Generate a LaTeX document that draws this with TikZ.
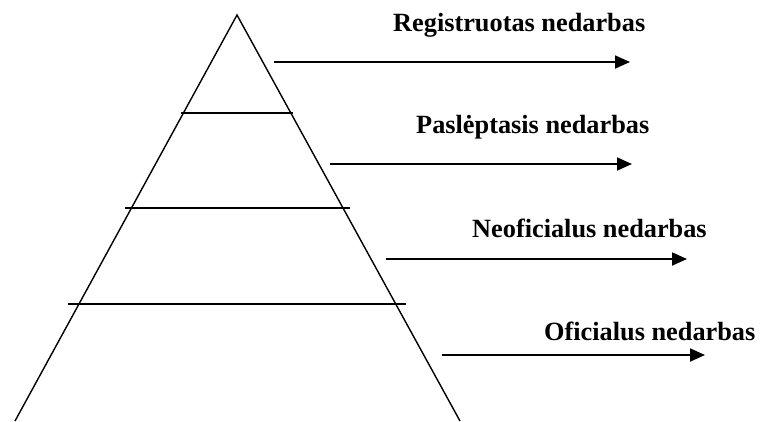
\documentclass[tikz,border=0pt]{standalone}
\usepackage{fontspec}
\setmainfont{Liberation Serif}
\usetikzlibrary{arrows.meta}
\begin{document}
\begin{tikzpicture}[x=1pt,y=-1pt,
  edge/.style={line width=1.4pt,line cap=butt},
  level/.style={line width=1.5pt},
  pointer/.style={line width=1.8pt,-{Triangle[length=15pt,width=13pt]}},
  caption/.style={anchor=base west,inner sep=0pt,font=\fontsize{26.3}{30}\selectfont\bfseries}]
\useasboundingbox (0,0) rectangle (760,421);
% pyramid outline
\coordinate (apex) at (237,15);
\coordinate (bl) at (15,421);
\coordinate (br) at (460,421);
\draw[edge] (bl) -- (apex) -- (br);
% level dividers
\coordinate (l1a) at (181,113); \coordinate (l1b) at (293,113);
\coordinate (l2a) at (125,208); \coordinate (l2b) at (350,208);
\coordinate (l3a) at (68,304);  \coordinate (l3b) at (406,304);
\draw[level] (l1a) -- (l1b);
\draw[level] (l2a) -- (l2b);
\draw[level] (l3a) -- (l3b);
% labels
\node[caption] (t1) at (393,31) {Registruotas nedarbas};
\node[caption] (t2) at (416,133) {Paslėptasis nedarbas};
\node[caption] (t3) at (472,237) {Neoficialus nedarbas};
\node[caption] (t4) at (544,340) {Oficialus nedarbas};
% arrows
\coordinate (a1s) at (274,62);  \coordinate (a1e) at (630,62);
\coordinate (a2s) at (330,164); \coordinate (a2e) at (632,164);
\coordinate (a3s) at (386,259); \coordinate (a3e) at (687,259);
\coordinate (a4s) at (442,355); \coordinate (a4e) at (705,355);
\draw[pointer] (a1s) -- (a1e);
\draw[pointer] (a2s) -- (a2e);
\draw[pointer] (a3s) -- (a3e);
\draw[pointer] (a4s) -- (a4e);
\end{tikzpicture}
\end{document}
